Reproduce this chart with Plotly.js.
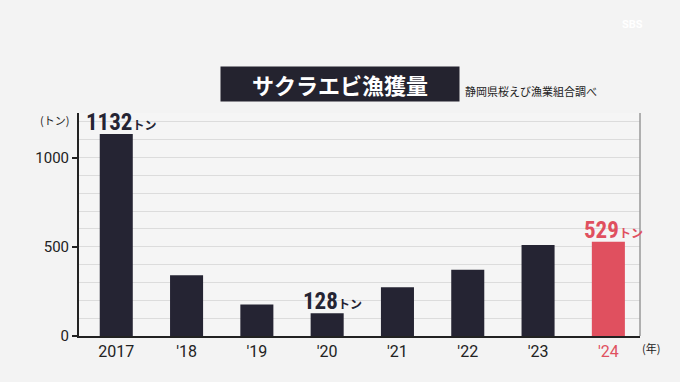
<!DOCTYPE html>
<html>
<head>
<meta charset="utf-8">
<script src="https://cdn.plot.ly/plotly-3.0.1.min.js"></script>
<style>
html,body{margin:0;padding:0;background:#f3f3f3;}
#chart{width:680px;height:382px;}
</style>
</head>
<body>
<div id="chart"></div>
<script>
const years = ["2017", "'18", "'19", "'20", "'21", "'22", "'23", "'24"];
const catch_t = [1132, 341, 177, 128, 273, 372, 510, 529];
const labelled = [0, 3, 7];
const yTickVals = [0, 500, 1000];

const navy = '#252433';
const red = '#e0505f';
const barColors = years.map((y, i) => i === years.length - 1 ? red : navy);
const numFont = "'Roboto Condensed', 'DejaVu Sans Condensed', Roboto, sans-serif";
const jpFont = "'Noto Sans CJK JP', 'Noto Sans', sans-serif";

const tickText = years.map((y, i) => i === years.length - 1 ? '<span style="color:' + red + '">' + y + '</span>' : y);

const annotations = labelled.map(i => ({
  x: i, y: catch_t[i], xref: 'x', yref: 'y',
  xanchor: 'center', yanchor: 'bottom', xshift: 5, yshift: -4,
  showarrow: false,
  text: '<b>' + catch_t[i] + '</b><span style="font-size:12px;font-family:' + jpFont + '"><b>トン</b></span>',
  font: {family: numFont, size: 23, color: i === years.length - 1 ? red : navy}
}));

annotations.push(
  {xref: 'paper', yref: 'paper', x: 0.465, y: 1.13, xanchor: 'center', yanchor: 'middle', showarrow: false,
   text: '<b>サクラエビ漁獲量</b>', font: {family: jpFont, size: 22, color: '#ffffff'},
   bgcolor: '#24232f', width: 236, height: 32},
  {xref: 'paper', yref: 'paper', x: 0.6845, y: 1.099, xanchor: 'left', yanchor: 'middle', showarrow: false,
   text: '静岡県桜えび漁業組合調べ', font: {family: jpFont, size: 11, color: '#222222'}},
  {xref: 'paper', yref: 'paper', x: -0.043, y: 0.969, xanchor: 'center', yanchor: 'middle', showarrow: false,
   text: '(トン)', font: {family: jpFont, size: 11, color: '#222222'}},
  {xref: 'paper', yref: 'paper', x: 1.02, y: -0.056, xanchor: 'center', yanchor: 'middle', showarrow: false,
   text: '(年)', font: {family: jpFont, size: 11, color: '#222222'}},
  {xref: 'paper', yref: 'paper', x: 0.965, y: 1.395, xanchor: 'left', yanchor: 'middle', showarrow: false,
   text: '<b>SBS</b>', font: {family: 'Roboto, sans-serif', size: 11, color: '#ffffff'}}
);

const trace = {
  type: 'bar', x: years.map((y, i) => i), y: catch_t,
  marker: {color: barColors, line: {width: 0}},
  width: 0.47, hoverinfo: 'none'
};

const layout = {
  width: 680, height: 382,
  margin: {l: 79, r: 40, t: 113, b: 46, pad: 0},
  paper_bgcolor: '#f3f3f3', plot_bgcolor: '#f5f5f5',
  showlegend: false,
  xaxis: {
    range: [-0.53, 7.45], tickmode: 'array', tickvals: years.map((y, i) => i), ticktext: tickText,
    showgrid: false, zeroline: false, showline: true, linecolor: '#222222', linewidth: 2,
    ticks: '', tickfont: {family: 'Roboto, "Noto Sans", sans-serif', size: 16, color: '#222222'},
    fixedrange: true
  },
  yaxis: {
    range: [0, 1250], tickmode: 'array', tickvals: yTickVals, ticktext: yTickVals.map(String),
    showgrid: true, gridcolor: '#dcdcdc', gridwidth: 1, zeroline: false,
    showline: true, linecolor: '#222222', linewidth: 2,
    ticks: 'outside', ticklen: 5, tickwidth: 2, tickcolor: '#222222',
    tickfont: {family: 'Roboto, "Noto Sans", sans-serif', size: 15, color: '#222222'},
    minor: {tickmode: 'linear', tick0: 0, dtick: 100, showgrid: true, gridcolor: '#dcdcdc', gridwidth: 1, ticks: ''},
    fixedrange: true
  },
  shapes: [
    {type: 'line', xref: 'paper', yref: 'paper', x0: 1, x1: 1, y0: 0, y1: 1, line: {color: '#999999', width: 1.5}}
  ],
  annotations: annotations
};

Plotly.newPlot('chart', [trace], layout, {displayModeBar: false, staticPlot: true});
</script>
</body>
</html>
